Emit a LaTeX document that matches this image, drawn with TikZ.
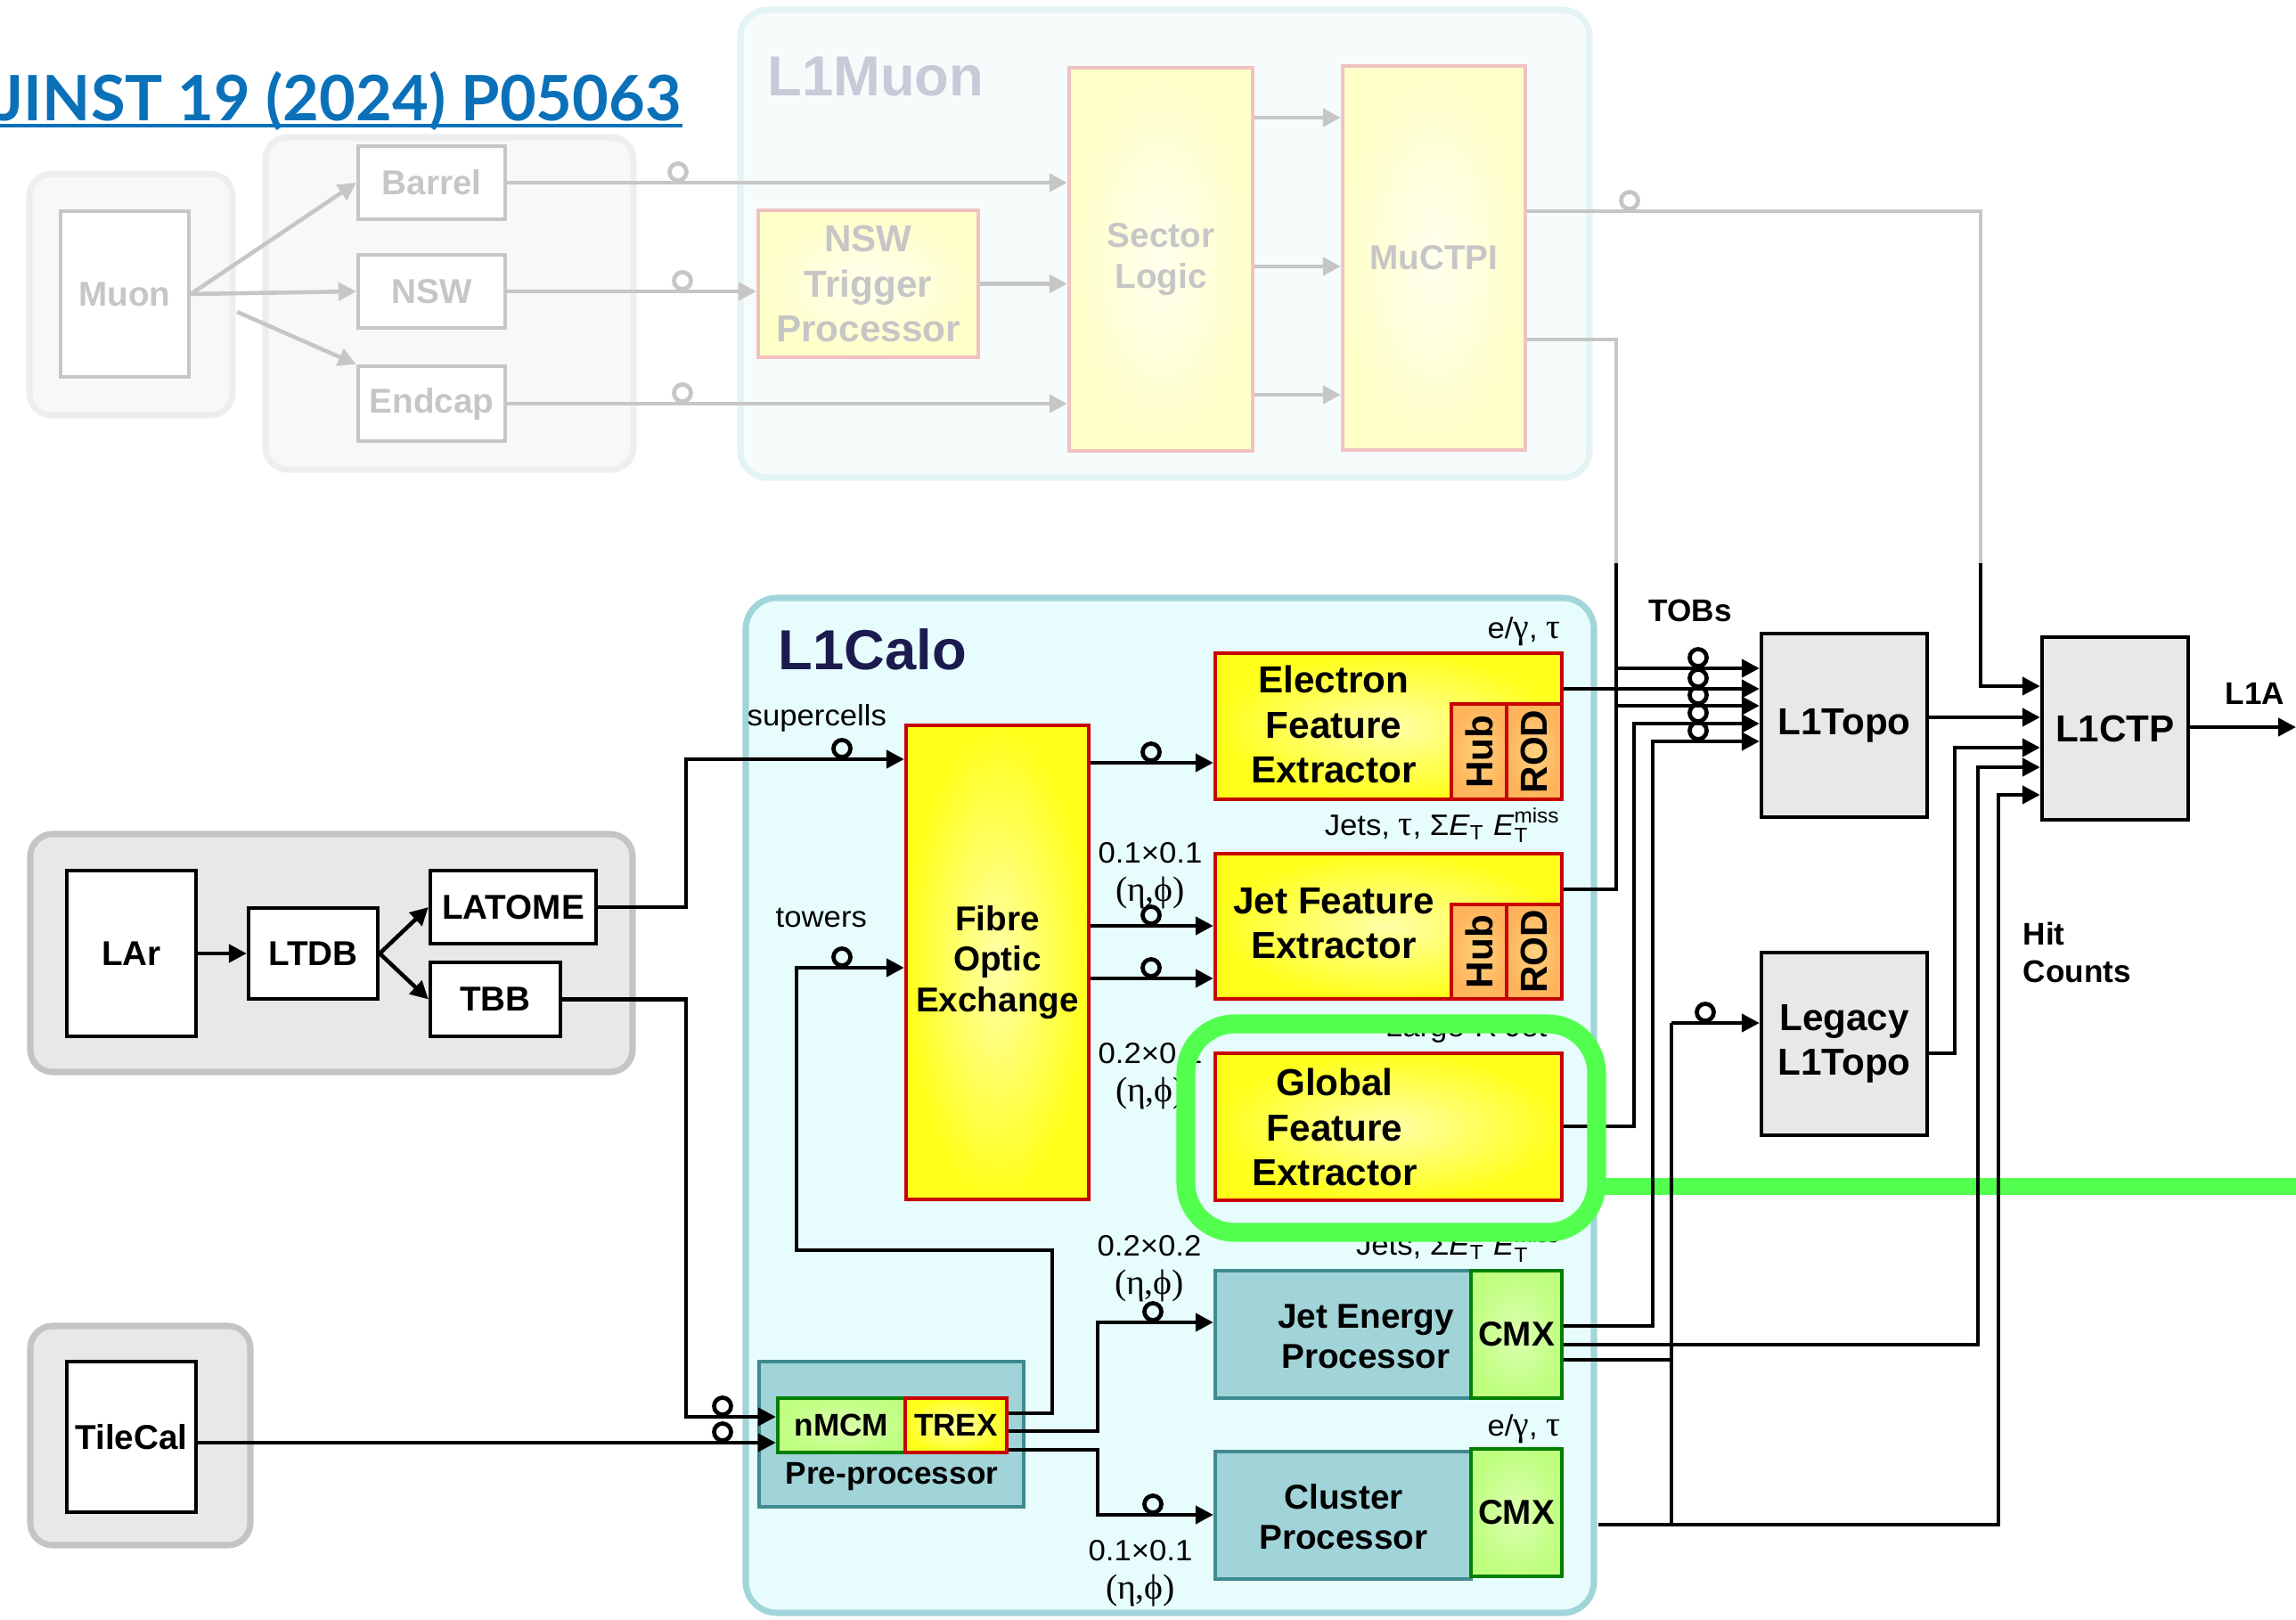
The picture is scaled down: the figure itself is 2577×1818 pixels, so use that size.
\documentclass[tikz,border=0pt]{standalone}
\usepackage{fontspec}
\usepackage{amsmath}
\setmainfont{Liberation Sans}
\newfontfamily\titlefont{Lato}
\newfontfamily\notefont{Liberation Sans}[FakeStretch=1.05]
\newfontfamily\greekfont{Liberation Serif}[Scale=1.2]
\usetikzlibrary{arrows.meta,calc}

\definecolor{linkblue}{HTML}{0A71B9}
\definecolor{fadeink}{HTML}{C6C6C6}
\definecolor{fadeframe}{HTML}{EEEEEE}
\definecolor{fadefill}{HTML}{F8F8F8}
\definecolor{muonfill}{HTML}{F6FCFC}
\definecolor{muonframe}{HTML}{E4F3F3}
\definecolor{muontext}{HTML}{C9C9D7}
\definecolor{paleyellow}{HTML}{FFFFEE}
\definecolor{creamyellow}{HTML}{FFFFC8}
\definecolor{pinkline}{HTML}{F0C2C2}
\definecolor{calofill}{HTML}{E7FCFC}
\definecolor{caloframe}{HTML}{A2D5D9}
\definecolor{calotitle}{HTML}{1C1B4F}
\definecolor{detfill}{HTML}{E8E8E8}
\definecolor{detframe}{HTML}{C4C4C4}
\definecolor{fexred}{HTML}{C80000}
\definecolor{fexin}{HTML}{FFFFA8}
\definecolor{fexout}{HTML}{FFFF1A}
\definecolor{hubin}{HTML}{FFD27E}
\definecolor{hubout}{HTML}{FFB35A}
\definecolor{tealfill}{HTML}{A0D4D8}
\definecolor{tealline}{HTML}{3F8B90}
\definecolor{cmxin}{HTML}{DCFFB0}
\definecolor{cmxout}{HTML}{BFFF80}
\definecolor{cmxline}{HTML}{008000}
\definecolor{topofill}{HTML}{E8E8E8}
\definecolor{marker}{HTML}{52FF4F}

\newcommand{\bigbf}{\fontsize{12}{14.3}\selectfont\bfseries}
\newcommand{\midbf}{\fontsize{11}{12.9}\selectfont\bfseries}
\newcommand{\smallbf}{\fontsize{10}{12}\selectfont\bfseries}
\newcommand{\grpbf}{\fontsize{18}{21}\selectfont\bfseries}
\newcommand{\etaphi}{{\greekfont(η,ϕ)}}
\newcommand{\onering}[2]{\draw[ringst] (#1,#2) ++(0,-12) circle[radius=0.095cm];}
\newcommand{\fadering}[2]{\draw[ringst,draw=fadeink] (#1,#2) ++(0,-12) circle[radius=0.095cm];}

\tikzset{
  blk/.style={draw, line width=1.2pt, inner sep=0pt, align=center},
  detbox/.style={blk, fill=white, font=\midbf},
  fadebox/.style={blk, draw=fadeink, fill=white, text=fadeink, font=\midbf},
  fadeyellow/.style={blk, draw=pinkline, inner color=paleyellow, outer color=creamyellow, text=fadeink},
  fexbox/.style={blk, draw=fexred, inner color=fexin, outer color=fexout},
  hubbox/.style={blk, draw=fexred, inner color=hubin, outer color=hubout},
  procbox/.style={blk, draw=tealline, fill=tealfill},
  cmxbox/.style={blk, draw=cmxline, inner color=cmxin, outer color=cmxout},
  topobox/.style={blk, fill=topofill, font=\bigbf},
  grp/.style={rounded corners=0.25cm, line width=2pt},
  conn/.style={line width=1.3pt},
  arr/.style={-{Triangle[length=0.2cm,width=0.2cm]}},
  gconn/.style={conn, draw=fadeink},
  ringst/.style={line width=1.35pt},
  lbl/.style={font=\notefont\fontsize{9.4}{12.2}\selectfont, inner sep=0pt, align=center},
  boxtext/.style={inner sep=0pt, align=center, font=\bigbf},
}

\begin{document}
\begin{tikzpicture}[x=0.01cm, y=-0.01cm]
\useasboundingbox (0,0) rectangle (2577,1818);

% group backgrounds
\draw[grp, draw=fadeframe, fill=fadefill] (33,195) rectangle (261,466);
\draw[grp, draw=fadeframe, fill=fadefill] (298,154) rectangle (711,527);
\draw[grp, draw=muonframe, fill=muonfill, rounded corners=0.3cm] (831,11) rectangle (1784,536);
\draw[grp, draw=detframe, fill=detfill] (34,936) rectangle (710,1203);
\draw[grp, draw=detframe, fill=detfill] (34,1488) rectangle (281,1734);
\draw[grp, draw=caloframe, fill=calofill, rounded corners=0.35cm] (837,671) rectangle (1789,1810);

\node[anchor=base west, inner sep=0pt, text=linkblue, font=\titlefont\bfseries\fontsize{20}{24}\selectfont] (jinst) at (-4,136) {JINST 19 (2024) P05063};
\draw[linkblue, line width=0.9pt] (jinst.base west |- 0,141) -- (jinst.base east |- 0,141);

% L1Muon (faded)
\node[anchor=base west, inner sep=0pt, text=muontext, font=\grpbf] (l1muon) at (861,107) {L1Muon};
\node[fadebox, minimum width=1.44cm, minimum height=1.86cm] (muon) at (140,330) {Muon};
\node[fadebox, minimum width=1.65cm, minimum height=0.82cm] (barrel) at (484.5,205) {Barrel};
\node[fadebox, minimum width=1.65cm, minimum height=0.82cm] (nsw) at (484.5,327) {NSW};
\node[fadebox, minimum width=1.65cm, minimum height=0.84cm] (endcap) at (484.5,453) {Endcap};
\node[fadeyellow, font=\bigbf, minimum width=2.47cm, minimum height=1.65cm] (nswtp) at (974.5,318.5) {NSW\\Trigger\\Processor};
\node[fadeyellow, font=\midbf, minimum width=2.06cm, minimum height=4.30cm] (sl) at (1303,291) {Sector\\Logic};
\node[fadeyellow, font=\midbf, minimum width=2.05cm, minimum height=4.31cm] (muctpi) at (1609.5,289.5) {MuCTPI};

% calorimeters
\node[detbox, minimum width=1.45cm, minimum height=1.86cm] (lar) at (147.5,1070) {LAr};
\node[detbox, minimum width=1.45cm, minimum height=1.02cm] (ltdb) at (351.5,1070) {LTDB};
\node[detbox, minimum width=1.86cm, minimum height=0.82cm] (latome) at (576,1018) {LATOME};
\node[detbox, minimum width=1.46cm, minimum height=0.83cm] (tbb) at (556,1121.5) {TBB};
\node[detbox, minimum width=1.45cm, minimum height=1.69cm] (tilecal) at (147.5,1612.5) {TileCal};

% L1Calo
\node[anchor=base west, inner sep=0pt, text=calotitle, font=\grpbf] (l1calo) at (873,751) {L1Calo};
\node[fexbox, font=\midbf, minimum width=2.05cm, minimum height=5.32cm] (fox) at (1119.5,1080) {Fibre\\Optic\\Exchange};
\node[fexbox, minimum width=3.89cm, minimum height=1.64cm] (efex) at (1558.5,815) {};
\node[hubbox, minimum width=0.62cm, minimum height=1.07cm] (efhub) at (1660,843.5) {};
\node[hubbox, minimum width=0.62cm, minimum height=1.07cm] (efrod) at (1722,843.5) {};
\node[fexbox, minimum width=3.89cm, minimum height=1.63cm] (jfex) at (1558.5,1039.5) {};
\node[hubbox, minimum width=0.62cm, minimum height=1.06cm] (jfhub) at (1660,1068) {};
\node[hubbox, minimum width=0.62cm, minimum height=1.06cm] (jfrod) at (1722,1068) {};
\node[fexbox, minimum width=3.89cm, minimum height=1.65cm] (gfex) at (1558.5,1264.5) {};
\node[boxtext] (eftxt) at (1497,813) {Electron\\Feature\\Extractor};
\node[boxtext] (jftxt) at (1497,1036) {Jet Feature\\Extractor};
\node[boxtext] (gftxt) at (1498,1265) {Global\\Feature\\Extractor};
\node[boxtext, rotate=90] (efhubt) at (efhub) {Hub};
\node[boxtext, rotate=90] (efrodt) at (efrod) {ROD};
\node[boxtext, rotate=90] (jfhubt) at (jfhub) {Hub};
\node[boxtext, rotate=90] (jfrodt) at (jfrod) {ROD};

\node[procbox, minimum width=2.87cm, minimum height=1.43cm] (jep) at (1507.5,1497.5) {};
\node[cmxbox, font=\midbf, minimum width=1.02cm, minimum height=1.43cm] (jepcmx) at (1702,1497.5) {CMX};
\node[procbox, minimum width=2.87cm, minimum height=1.43cm] (cp) at (1507.5,1700.5) {};
\node[cmxbox, font=\midbf, minimum width=1.02cm, minimum height=1.43cm] (cpcmx) at (1702,1697.5) {CMX};
\node[boxtext, font=\midbf] (jeptxt) at (1533,1500) {Jet Energy\\Processor};
\node[boxtext, font=\midbf] (cptxt) at (1508,1702) {Cluster\\Processor};

\node[procbox, minimum width=2.97cm, minimum height=1.63cm] (ppr) at (1000.5,1609.5) {};
\node[cmxbox, font=\smallbf, minimum width=1.43cm, minimum height=0.61cm] (nmcm) at (944.5,1599.5) {nMCM};
\node[fexbox, font=\smallbf, minimum width=1.14cm, minimum height=0.61cm] (trex) at (1073,1599.5) {TREX};
\node[boxtext, font=\smallbf] (pprtxt) at (1001,1657) {Pre-processor};

% labels
\node[lbl, anchor=base west] (supc) at (838,814) {supercells};
\node[lbl, anchor=base west] (towr) at (870,1040) {towers};
\node[lbl, anchor=base east] (egtau) at (1752,716) {e/{\greekfont γ}, {\greekfont τ}};
\node[lbl, anchor=base east] (jets) at (1752,937) {Jets, {\greekfont τ}, Σ\textit{E}$_\text{T}$ \textit{E}$_\text{T}^\text{miss}$};
\node[lbl, anchor=base east] (larger) at (1737,1163) {Large-R Jet};
\node[lbl, anchor=base east] (jetsb) at (1752,1408) {Jets, Σ\textit{E}$_\text{T}$ \textit{E}$_\text{T}^\text{miss}$};
\node[lbl, anchor=base east] (egtaub) at (1752,1611) {e/{\greekfont γ}, {\greekfont τ}};
\node[lbl] (granA) at (1291,983) {0.1×0.1\\\etaphi};
\node[lbl] (granB) at (1291,1208) {0.2×0.2\\\etaphi};
\node[lbl] (granC) at (1290,1424) {0.2×0.2\\\etaphi};
\node[lbl] (granD) at (1280,1766) {0.1×0.1\\\etaphi};

% central trigger side
\node[topobox, minimum width=1.86cm, minimum height=2.06cm] (l1topo) at (2070,814) {L1Topo};
\node[topobox, minimum width=1.64cm, minimum height=2.05cm] (l1ctp) at (2374,817.5) {L1CTP};
\node[topobox, minimum width=1.86cm, minimum height=2.05cm] (legacy) at (2070,1171.5) {Legacy\\L1Topo};
\node[anchor=base west, inner sep=0pt, font=\smallbf] (tobs) at (1850,697) {TOBs};
\node[anchor=base west, inner sep=0pt, font=\smallbf] (lonea) at (2497,790) {L1A};
\node[anchor=base west, inner sep=0pt, font=\smallbf] (hit) at (2270,1060) {Hit};
\node[anchor=base west, inner sep=0pt, font=\smallbf] (counts) at (2270,1102) {Counts};

% muon connectors
\draw[gconn,arr] (muon.east) -- (barrel.west);
\draw[gconn,arr] (muon.east) -- (nsw.west);
\draw[gconn,arr] ($(muon.east)+(52,20)$) -- (endcap.north west);
\draw[gconn,arr] (barrel.east) -- (barrel.east -| sl.west);
\draw[gconn,arr] (nsw.east) -- (nsw.east -| nswtp.west);
\draw[gconn,arr] (nswtp.east) -- (nswtp.east -| sl.west);
\draw[gconn,arr] (endcap.east) -- (endcap.east -| sl.west);
\foreach \yy in {132,299,443}
  \draw[gconn,arr] (sl.east |- 0,\yy) -- (muctpi.west |- 0,\yy);
\coordinate (mucA) at (2223,632);
\coordinate (mucB) at (1814,632);
\draw[gconn] (muctpi.east |- 0,237) -| (mucA);
\draw[gconn] (muctpi.east |- 0,381) -| (mucB);
\fadering{761}{205}
\fadering{766}{327}
\fadering{766}{453}
\fadering{1829}{237}

% calorimeter inputs
\draw[conn,arr] (lar) -- (ltdb);
\draw[conn,arr] (ltdb.east) -- (latome.west);
\draw[conn,arr] (ltdb.east) -- (tbb.west);
\coordinate (scbend) at (770,852);
\draw[conn,arr] (latome.east) -| (scbend) -- (fox.west |- scbend);
\coordinate (ppbend) at (770,1590);
\draw[conn,arr] (tbb.east) -| (ppbend) -- (nmcm.west |- ppbend);
\coordinate (tilein) at (811,1619);
\draw[conn,arr] (tilecal.east |- tilein) -- (nmcm.west |- tilein);

% pre-processor outputs
\coordinate (twA) at (1181,1403);
\coordinate (twB) at (894,1086);
\draw[conn,arr] (trex.east |- 0,1586) -| (twA) -| (twB) -- (fox.west |- twB);
\coordinate (jepbend) at (1232,1484);
\draw[conn,arr] (trex.east |- 0,1606) -| (jepbend) -- (jep.west |- jepbend);
\coordinate (cpbend) at (1232,1700);
\draw[conn,arr] (trex.east |- 0,1627) -| (cpbend) -- (cp.west |- cpbend);

% fibre optic exchange outputs
\foreach \yy/\dest in {856/efex,1039/jfex,1098/jfex}
  \draw[conn,arr] (fox.east |- 0,\yy) -- (\dest.west |- 0,\yy);

% TOBs to L1Topo
\draw[conn,arr] (efex.east |- 0,773) -- (l1topo.west |- 0,773);
\draw[conn] (jfex.east |- 0,998) -| (mucB);
\foreach \yy in {750,792}
  \draw[conn,arr] (mucB |- 0,\yy) -- (l1topo.west |- 0,\yy);
\coordinate (gbus) at (1834,812);
\draw[conn,arr] (gfex.east |- 0,1264) -| (gbus) -- (l1topo.west |- gbus);

% highlight
\draw[marker, line width=6pt, rounded corners=0.55cm] (1331,1149) rectangle (1792,1383);
\coordinate (markend) at (2577,1331);
\draw[marker, line width=5.4pt] (1792,1331) -- (markend);

\coordinate (jbus) at (1855,832);
\draw[conn,arr] (jepcmx.east |- 0,1488) -| (jbus) -- (l1topo.west |- jbus);
\coordinate (lbus) at (1876,1148);
\draw[conn,arr] (lbus) -- (legacy.west |- lbus);
\draw[conn] (lbus) -- (lbus |- 0,1711);
\draw[conn] (jepcmx.east |- 0,1526) -- (lbus |- 0,1526);
\coordinate (hbus) at (2220,861);
\draw[conn,arr] (jepcmx.east |- 0,1509) -| (hbus) -- (l1ctp.west |- hbus);
\coordinate (cbus) at (2243,892);
\draw[conn,arr] ($(cpcmx.east |- 0,1711)+(39,0)$) -| (cbus) -- (l1ctp.west |- cbus);
\coordinate (lgbus) at (2194,839);
\draw[conn,arr] (legacy.east |- 0,1182) -| (lgbus) -- (l1ctp.west |- lgbus);
\draw[conn,arr] (l1topo.east |- 0,805) -- (l1ctp.west |- 0,805);
\draw[conn,arr] (mucA) |- (l1ctp.west |- 0,770);
\coordinate (l1aout) at (2577,816);
\draw[conn,arr] (l1ctp.east |- l1aout) -- (l1aout);

% link markers
\onering{945}{852}
\onering{945}{1086}
\onering{1292}{856}
\onering{1292}{1039}
\onering{1292}{1098}
\onering{811}{1590}
\onering{811}{1619}
\onering{1294}{1484}
\onering{1294}{1700}
\onering{1914}{1148}
\foreach \yy in {750,773,792,812,832} {\onering{1906}{\yy}}

\end{tikzpicture}
\end{document}
